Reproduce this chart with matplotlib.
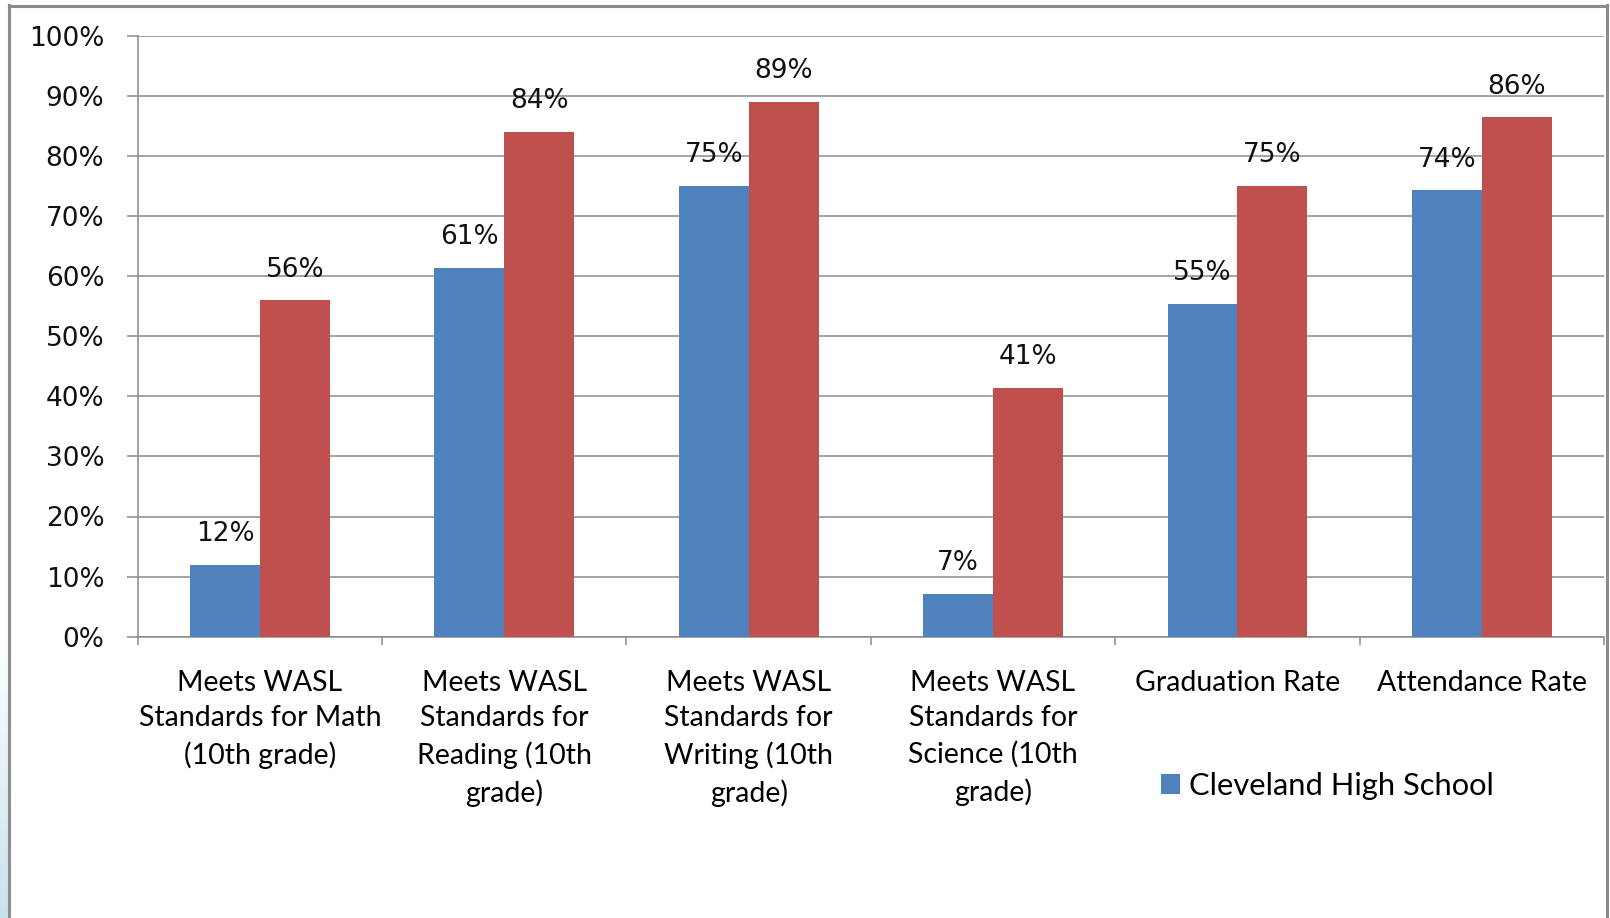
import matplotlib
matplotlib.use("Agg")
import matplotlib.pyplot as plt
import numpy as np
from matplotlib.lines import Line2D
from matplotlib.ticker import FixedLocator, PercentFormatter
from matplotlib.colors import LinearSegmentedColormap

categories = [
    "Meets WASL\nStandards for Math\n(10th grade)",
    "Meets WASL\nStandards for\nReading (10th\ngrade)",
    "Meets WASL\nStandards for\nWriting (10th\ngrade)",
    "Meets WASL\nStandards for\nScience (10th\ngrade)",
    "Graduation Rate",
    "Attendance Rate",
]
cleveland = [12.0, 61.4, 75.0, 7.1, 55.4, 74.3]
comparison = [56.0, 84.0, 89.0, 41.4, 75.0, 86.4]
series_names = ["Cleveland High School", "Comparison"]
y_ticks = [0, 10, 20, 30, 40, 50, 60, 70, 80, 90, 100]

BLUE = "#4F81BD"
RED = "#C0504D"
GRID = "#8a8a8a"

W, H = 1610, 918
fig = plt.figure(figsize=(W / 100, H / 100), dpi=100)
fig.patch.set_facecolor("white")

left, right, top, bottom = 137.7, 1604, 35.7, 636.7
ax = fig.add_axes([left / W, 1 - bottom / H, (right - left) / W, (bottom - top) / H])

x = np.arange(len(categories))
bw = 0.286
b1 = ax.bar(x - bw / 2, cleveland, bw, color=BLUE, zorder=3, label=series_names[0])
b2 = ax.bar(x + bw / 2, comparison, bw, color=RED, zorder=3, label=series_names[1])

for bars, vals in ((b1, cleveland), (b2, comparison)):
    for rect, v in zip(bars, vals):
        ax.annotate(f"{round(v)}%", (rect.get_x() + rect.get_width() / 2, v),
                    xytext=(0, 17), textcoords="offset points",
                    ha="center", va="baseline", fontsize=19,
                    family="DejaVu Sans", color="#111111")

ax.set_xlim(-0.5, len(categories) - 0.5)
ax.set_ylim(0, 100)
ax.set_yticks(y_ticks)
ax.yaxis.set_major_formatter(PercentFormatter(decimals=0))
ax.tick_params(axis="y", direction="out", length=8, width=1.1, color=GRID,
               pad=16, labelsize=19, labelcolor="#111111")
for t in ax.get_yticklabels():
    t.set_family("DejaVu Sans")

ax.set_xticks(x)
ax.set_xticklabels(categories, family="Lato", fontsize=20.5, linespacing=1.45)
ax.tick_params(axis="x", which="major", length=0, pad=24, labelcolor="#000000")
ax.xaxis.set_minor_locator(FixedLocator(np.arange(-0.5, len(categories), 1.0)))
ax.tick_params(axis="x", which="minor", direction="out", length=6, width=1.1, color=GRID)

ax.grid(axis="y", color=GRID, linewidth=1.1, zorder=0)
ax.set_axisbelow(True)
for s in ("top", "right"):
    ax.spines[s].set_visible(False)
for s in ("left", "bottom"):
    ax.spines[s].set_color(GRID)
    ax.spines[s].set_linewidth(1.1)

leg = fig.legend(handles=[b1], labels=[series_names[0]], loc="center left",
                 bbox_to_anchor=(1161 / W, 1 - 786 / H), frameon=False,
                 prop={"family": "Lato", "size": 22.2},
                 handlelength=0.6, handleheight=0.6, handletextpad=0.3,
                 borderpad=0, borderaxespad=0)

# outer frame
fc = "#8c8c8c"
fig.add_artist(Line2D([8.5 / W, 8.5 / W], [0, 1 - 5 / H], transform=fig.transFigure, color=fc, lw=2.2))
fig.add_artist(Line2D([8.5 / W, 1607 / W], [1 - 5.5 / H, 1 - 5.5 / H], transform=fig.transFigure, color=fc, lw=2.2))
fig.add_artist(Line2D([1607 / W, 1607 / W], [0, 1 - 5 / H], transform=fig.transFigure, color=fc, lw=2.2))

# pale blue strip at lower left
sax = fig.add_axes([0, 0, 7 / W, 290 / H])
grad = np.linspace(0, 1, 100)[:, None]
cmap = LinearSegmentedColormap.from_list("g", ["#c8e2ec", "#ffffff"])
sax.imshow(grad, aspect="auto", cmap=cmap, origin="lower", extent=[0, 1, 0, 1])
sax.set_axis_off()

fig.savefig("out.png", dpi=100, facecolor="white")
